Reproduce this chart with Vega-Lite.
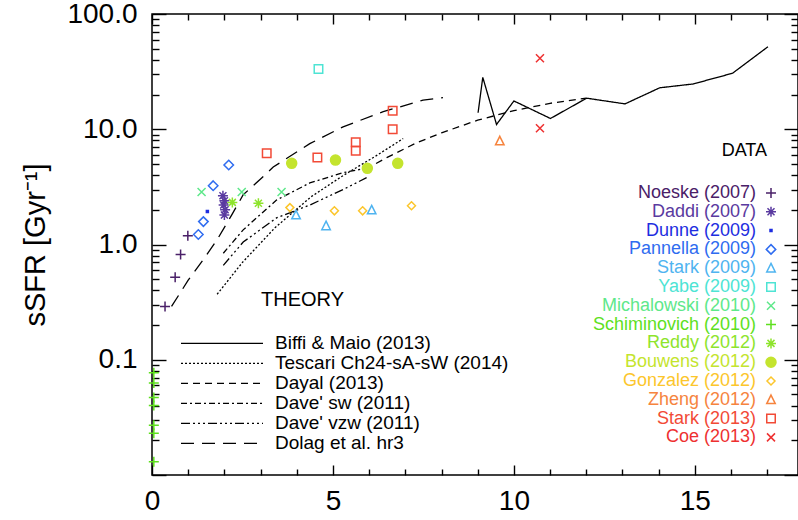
{
  "$schema": "https://vega.github.io/schema/vega-lite/v6.json",
  "width": 646,
  "height": 461,
  "autosize": {"type": "none"},
  "padding": {"left": 152, "top": 14, "right": 0, "bottom": 45},
  "config": {
    "font": "Liberation Sans",
    "view": {"stroke": "black", "strokeWidth": 1.5},
    "axis": {"grid": false, "domain": false, "tickColor": "black", "tickWidth": 1.4, "labelColor": "black", "labelFont": "Liberation Sans", "labelFontSize": 28, "titleColor": "black", "titleFont": "Liberation Sans"}
  },
  "datasets": {
    "theory": [
      {"model": "Biffi & Maio (2013)", "z": 9.01, "ssfr": 13.9},
      {"model": "Biffi & Maio (2013)", "z": 9.14, "ssfr": 28.2},
      {"model": "Biffi & Maio (2013)", "z": 9.52, "ssfr": 11.0},
      {"model": "Biffi & Maio (2013)", "z": 10.0, "ssfr": 17.6},
      {"model": "Biffi & Maio (2013)", "z": 11.01, "ssfr": 12.4},
      {"model": "Biffi & Maio (2013)", "z": 12.01, "ssfr": 18.6},
      {"model": "Biffi & Maio (2013)", "z": 13.07, "ssfr": 16.6},
      {"model": "Biffi & Maio (2013)", "z": 14.03, "ssfr": 22.9},
      {"model": "Biffi & Maio (2013)", "z": 14.95, "ssfr": 24.7},
      {"model": "Biffi & Maio (2013)", "z": 16.04, "ssfr": 30.6},
      {"model": "Biffi & Maio (2013)", "z": 17.02, "ssfr": 52.0},
      {"model": "Tescari Ch24-sA-sW (2014)", "z": 1.8, "ssfr": 0.37},
      {"model": "Tescari Ch24-sA-sW (2014)", "z": 2.5, "ssfr": 0.7},
      {"model": "Tescari Ch24-sA-sW (2014)", "z": 3.4, "ssfr": 1.4},
      {"model": "Tescari Ch24-sA-sW (2014)", "z": 4.4, "ssfr": 2.6},
      {"model": "Tescari Ch24-sA-sW (2014)", "z": 5.3, "ssfr": 4.0},
      {"model": "Tescari Ch24-sA-sW (2014)", "z": 6.2, "ssfr": 5.9},
      {"model": "Tescari Ch24-sA-sW (2014)", "z": 6.94, "ssfr": 8.3},
      {"model": "Dayal (2013)", "z": 5.9, "ssfr": 4.5},
      {"model": "Dayal (2013)", "z": 6.5, "ssfr": 5.7},
      {"model": "Dayal (2013)", "z": 7.3, "ssfr": 7.6},
      {"model": "Dayal (2013)", "z": 8.0, "ssfr": 9.3},
      {"model": "Dayal (2013)", "z": 9.0, "ssfr": 12.0},
      {"model": "Dayal (2013)", "z": 10.0, "ssfr": 14.5},
      {"model": "Dayal (2013)", "z": 11.0, "ssfr": 16.8},
      {"model": "Dayal (2013)", "z": 12.0, "ssfr": 18.6},
      {"model": "Dave' sw (2011)", "z": 1.97, "ssfr": 0.84},
      {"model": "Dave' sw (2011)", "z": 2.52, "ssfr": 1.34},
      {"model": "Dave' sw (2011)", "z": 3.44, "ssfr": 2.43},
      {"model": "Dave' sw (2011)", "z": 4.36, "ssfr": 3.42},
      {"model": "Dave' sw (2011)", "z": 5.28, "ssfr": 4.2},
      {"model": "Dave' sw (2011)", "z": 5.93, "ssfr": 4.6},
      {"model": "Dave' vzw (2011)", "z": 1.97, "ssfr": 0.66},
      {"model": "Dave' vzw (2011)", "z": 2.52, "ssfr": 1.05},
      {"model": "Dave' vzw (2011)", "z": 3.44, "ssfr": 1.7},
      {"model": "Dave' vzw (2011)", "z": 4.36, "ssfr": 2.2},
      {"model": "Dave' vzw (2011)", "z": 5.28, "ssfr": 3.0},
      {"model": "Dave' vzw (2011)", "z": 5.93, "ssfr": 3.8},
      {"model": "Dolag et al. hr3", "z": 0.54, "ssfr": 0.29},
      {"model": "Dolag et al. hr3", "z": 1.0, "ssfr": 0.49},
      {"model": "Dolag et al. hr3", "z": 1.42, "ssfr": 0.74},
      {"model": "Dolag et al. hr3", "z": 1.8, "ssfr": 1.1},
      {"model": "Dolag et al. hr3", "z": 2.2, "ssfr": 1.8},
      {"model": "Dolag et al. hr3", "z": 2.52, "ssfr": 2.7},
      {"model": "Dolag et al. hr3", "z": 3.0, "ssfr": 3.7},
      {"model": "Dolag et al. hr3", "z": 3.35, "ssfr": 4.7},
      {"model": "Dolag et al. hr3", "z": 4.36, "ssfr": 7.5},
      {"model": "Dolag et al. hr3", "z": 5.28, "ssfr": 10.5},
      {"model": "Dolag et al. hr3", "z": 6.39, "ssfr": 14.2},
      {"model": "Dolag et al. hr3", "z": 7.49, "ssfr": 17.9},
      {"model": "Dolag et al. hr3", "z": 8.04, "ssfr": 18.8}
    ],
    "obs": [
      {"src": "Noeske (2007)", "z": 0.36, "ssfr": 0.29},
      {"src": "Noeske (2007)", "z": 0.64, "ssfr": 0.52},
      {"src": "Noeske (2007)", "z": 0.79, "ssfr": 0.82},
      {"src": "Noeske (2007)", "z": 0.99, "ssfr": 1.19},
      {"src": "Daddi (2007)", "z": 1.96, "ssfr": 2.65},
      {"src": "Daddi (2007)", "z": 2.0, "ssfr": 2.4},
      {"src": "Daddi (2007)", "z": 1.98, "ssfr": 2.2},
      {"src": "Daddi (2007)", "z": 2.02, "ssfr": 2.0},
      {"src": "Daddi (2007)", "z": 2.0, "ssfr": 1.8},
      {"src": "Dunne (2009)", "z": 1.53, "ssfr": 1.93},
      {"src": "Pannella (2009)", "z": 1.28, "ssfr": 1.22},
      {"src": "Pannella (2009)", "z": 1.42, "ssfr": 1.58},
      {"src": "Pannella (2009)", "z": 1.69, "ssfr": 3.24},
      {"src": "Pannella (2009)", "z": 2.12, "ssfr": 4.9},
      {"src": "Stark (2009)", "z": 3.98, "ssfr": 1.8},
      {"src": "Stark (2009)", "z": 4.81, "ssfr": 1.45},
      {"src": "Stark (2009)", "z": 6.07, "ssfr": 1.99},
      {"src": "Yabe (2009)", "z": 4.6, "ssfr": 33.3},
      {"src": "Michalowski (2010)", "z": 1.37, "ssfr": 2.85},
      {"src": "Michalowski (2010)", "z": 2.48, "ssfr": 2.85},
      {"src": "Michalowski (2010)", "z": 3.58, "ssfr": 2.85},
      {"src": "Schiminovich (2010)", "z": 0.05, "ssfr": 0.077},
      {"src": "Schiminovich (2010)", "z": 0.05, "ssfr": 0.063},
      {"src": "Schiminovich (2010)", "z": 0.05, "ssfr": 0.047},
      {"src": "Schiminovich (2010)", "z": 0.05, "ssfr": 0.04},
      {"src": "Schiminovich (2010)", "z": 0.05, "ssfr": 0.027},
      {"src": "Schiminovich (2010)", "z": 0.05, "ssfr": 0.023},
      {"src": "Schiminovich (2010)", "z": 0.05, "ssfr": 0.013},
      {"src": "Reddy (2012)", "z": 2.22, "ssfr": 2.32},
      {"src": "Reddy (2012)", "z": 2.94, "ssfr": 2.28},
      {"src": "Bouwens (2012)", "z": 3.86, "ssfr": 5.06},
      {"src": "Bouwens (2012)", "z": 5.07, "ssfr": 5.4},
      {"src": "Bouwens (2012)", "z": 5.95, "ssfr": 4.58},
      {"src": "Bouwens (2012)", "z": 6.79, "ssfr": 5.06},
      {"src": "Gonzalez (2012)", "z": 3.81, "ssfr": 2.09},
      {"src": "Gonzalez (2012)", "z": 5.04, "ssfr": 1.96},
      {"src": "Gonzalez (2012)", "z": 5.82, "ssfr": 1.96},
      {"src": "Gonzalez (2012)", "z": 7.17, "ssfr": 2.17},
      {"src": "Zheng (2012)", "z": 9.61, "ssfr": 7.9},
      {"src": "Stark (2013)", "z": 3.17, "ssfr": 6.2},
      {"src": "Stark (2013)", "z": 4.57, "ssfr": 5.7},
      {"src": "Stark (2013)", "z": 5.63, "ssfr": 7.7},
      {"src": "Stark (2013)", "z": 5.63, "ssfr": 6.5},
      {"src": "Stark (2013)", "z": 6.65, "ssfr": 10.0},
      {"src": "Stark (2013)", "z": 6.65, "ssfr": 14.5},
      {"src": "Coe (2013)", "z": 10.72, "ssfr": 41.3},
      {"src": "Coe (2013)", "z": 10.72, "ssfr": 10.2}
    ]
  },
  "layer": [
    {
      "data": {"name": "theory"},
      "mark": {"type": "line", "color": "black", "strokeWidth": 1.3},
      "encoding": {
        "x": {"field": "z", "type": "quantitative", "scale": {"domain": [0, 17.85], "nice": false, "zero": false},
          "axis": {"orient": "bottom", "values": [0, 5, 10, 15], "tickSize": -10, "labelPadding": 22, "title": null, "format": "d", "labelFlush": false}},
        "y": {"field": "ssfr", "type": "quantitative", "scale": {"type": "log", "domain": [0.01, 100], "nice": false},
          "axis": {"orient": "left", "values": [0.01, 0.1, 1, 10, 100], "tickSize": -14, "labelPadding": 29,
            "labelExpr": "datum.value >= 0.1 ? format(datum.value, '.1f') : ''",
            "title": "sSFR [Gyr⁻¹]", "titleFontSize": 29, "titleFontWeight": "normal", "titlePadding": 16}},
        "strokeDash": {"field": "model", "type": "nominal",
          "scale": {"domain": ["Biffi & Maio (2013)", "Tescari Ch24-sA-sW (2014)", "Dayal (2013)", "Dave' sw (2011)", "Dave' vzw (2011)", "Dolag et al. hr3"],
            "range": [[1, 0], [2, 2], [7, 5], [6, 3, 2, 3], [9, 3, 2, 3, 2, 3, 2, 3], [13, 8]]},
          "legend": {"title": "THEORY", "orient": "none", "legendX": 28, "legendY": 276, "symbolType": "stroke", "symbolSize": 6724,
            "symbolStrokeWidth": 1.4, "symbolStrokeColor": "black", "clipHeight": 18.7, "rowPadding": -1.6, "padding": 0,
            "labelFont": "Liberation Sans", "labelFontSize": 19, "labelColor": "black", "labelOffset": 11, "labelLimit": 400,
            "titleFont": "Liberation Sans", "titleFontSize": 20, "titleFontWeight": "normal", "titleColor": "black", "titleAnchor": "middle", "titleAlign": "right", "titlePadding": 24}}
      }
    },
    {
      "data": {"name": "obs"},
      "mark": {"type": "point", "size": 100, "strokeWidth": 1.5, "opacity": 1},
      "encoding": {
        "x": {"field": "z", "type": "quantitative", "scale": {"domain": [0, 17.85], "nice": false, "zero": false},
          "axis": {"orient": "bottom", "values": [1, 2, 3, 4, 6, 7, 8, 9, 11, 12, 13, 14, 16, 17], "tickSize": -6, "labels": false, "title": null}},
        "y": {"field": "ssfr", "type": "quantitative", "scale": {"type": "log", "domain": [0.01, 100], "nice": false},
          "axis": {"orient": "left", "values": [0.02, 0.03, 0.04, 0.05, 0.06, 0.07, 0.08, 0.09, 0.2, 0.3, 0.4, 0.5, 0.6, 0.7, 0.8, 0.9, 2, 3, 4, 5, 6, 7, 8, 9, 20, 30, 40, 50, 60, 70, 80, 90], "tickSize": -7, "labels": false, "title": null}},
        "stroke": {"field": "src", "type": "nominal",
          "scale": {"domain": ["Noeske (2007)", "Daddi (2007)", "Dunne (2009)", "Pannella (2009)", "Stark (2009)", "Yabe (2009)", "Michalowski (2010)", "Schiminovich (2010)", "Reddy (2012)", "Bouwens (2012)", "Gonzalez (2012)", "Zheng (2012)", "Stark (2013)", "Coe (2013)"],
            "range": ["#4a2068", "#5a3aa0", "#1e2ee0", "#2f6cf0", "#4fb4f0", "#4ee4d4", "#5ee88a", "#5ee01e", "#8ee42c", "#c4e42e", "#fcc62c", "#f6843e", "#f24a36", "#ee3030"]},
          "legend": {"title": "DATA", "orient": "none", "legendX": 570, "legendY": 128, "rowPadding": 0.8, "padding": 0,
            "symbolSize": 100, "symbolStrokeWidth": 1.5, "symbolOffset": 8, "labelFont": "Liberation Sans", "labelFontSize": 18, "labelLimit": 400,
            "labelAlign": "right", "labelOffset": -24,
            "labelColor": {"expr": "scale('stroke', datum.value)"},
            "titleFont": "Liberation Sans", "titleFontSize": 18, "titleFontWeight": "normal", "titleColor": "black", "titleAnchor": "middle", "titleAlign": "right", "titlePadding": 24}},
        "fill": {"field": "src", "type": "nominal",
          "scale": {"domain": ["Noeske (2007)", "Daddi (2007)", "Dunne (2009)", "Pannella (2009)", "Stark (2009)", "Yabe (2009)", "Michalowski (2010)", "Schiminovich (2010)", "Reddy (2012)", "Bouwens (2012)", "Gonzalez (2012)", "Zheng (2012)", "Stark (2013)", "Coe (2013)"],
            "range": ["transparent", "transparent", "#1e2ee0", "transparent", "transparent", "transparent", "transparent", "transparent", "transparent", "#c4e42e", "transparent", "transparent", "transparent", "transparent"]},
          "legend": {"title": "DATA", "orient": "none", "legendX": 570, "legendY": 128, "rowPadding": 0.8, "padding": 0,
            "symbolSize": 100, "symbolStrokeWidth": 1.5, "symbolOffset": 8, "labelFont": "Liberation Sans", "labelFontSize": 18, "labelLimit": 400,
            "labelAlign": "right", "labelOffset": -24,
            "labelColor": {"expr": "scale('stroke', datum.value)"},
            "titleFont": "Liberation Sans", "titleFontSize": 18, "titleFontWeight": "normal", "titleColor": "black", "titleAnchor": "middle", "titleAlign": "right", "titlePadding": 24}},
        "shape": {"field": "src", "type": "nominal",
          "scale": {"domain": ["Noeske (2007)", "Daddi (2007)", "Dunne (2009)", "Pannella (2009)", "Stark (2009)", "Yabe (2009)", "Michalowski (2010)", "Schiminovich (2010)", "Reddy (2012)", "Bouwens (2012)", "Gonzalez (2012)", "Zheng (2012)", "Stark (2013)", "Coe (2013)"],
            "range": [
              "M-1,0L1,0M0,-1L0,1",
              "M-1,0L1,0M0,-1L0,1M-0.7,-0.7L0.7,0.7M-0.7,0.7L0.7,-0.7",
              "M-0.2,-0.2L0.2,-0.2L0.2,0.2L-0.2,0.2Z",
              "M0,-0.95L0.95,0L0,0.95L-0.95,0Z",
              "M0,-0.95L0.85,0.75L-0.85,0.75Z",
              "M-0.85,-0.85L0.85,-0.85L0.85,0.85L-0.85,0.85Z",
              "M-0.8,-0.8L0.8,0.8M-0.8,0.8L0.8,-0.8",
              "M-1,0L1,0M0,-1L0,1",
              "M-1,0L1,0M0,-1L0,1M-0.7,-0.7L0.7,0.7M-0.7,0.7L0.7,-0.7",
              "circle",
              "M0,-0.8L0.8,0L0,0.8L-0.8,0Z",
              "M0,-0.95L0.85,0.75L-0.85,0.75Z",
              "M-0.85,-0.85L0.85,-0.85L0.85,0.85L-0.85,0.85Z",
              "M-0.8,-0.8L0.8,0.8M-0.8,0.8L0.8,-0.8"
            ]},
          "legend": {"title": "DATA", "orient": "none", "legendX": 570, "legendY": 128, "rowPadding": 0.8, "padding": 0,
            "symbolSize": 100, "symbolStrokeWidth": 1.5, "symbolOffset": 8, "labelFont": "Liberation Sans", "labelFontSize": 18, "labelLimit": 400,
            "labelAlign": "right", "labelOffset": -24,
            "labelColor": {"expr": "scale('stroke', datum.value)"},
            "titleFont": "Liberation Sans", "titleFontSize": 18, "titleFontWeight": "normal", "titleColor": "black", "titleAnchor": "middle", "titleAlign": "right", "titlePadding": 24}}
      }
    },
    {
      "data": {"name": "obs"},
      "mark": {"type": "point", "opacity": 0},
      "encoding": {
        "x": {"field": "z", "type": "quantitative", "scale": {"domain": [0, 17.85], "nice": false, "zero": false},
          "axis": {"orient": "top", "values": [0, 5, 10, 15], "tickSize": -10, "labels": false, "title": null}},
        "y": {"field": "ssfr", "type": "quantitative", "scale": {"type": "log", "domain": [0.01, 100], "nice": false},
          "axis": {"orient": "right", "values": [0.01, 0.1, 1, 10, 100], "tickSize": -14, "labels": false, "title": null}}
      }
    },
    {
      "data": {"name": "obs"},
      "mark": {"type": "point", "opacity": 0},
      "encoding": {
        "x": {"field": "z", "type": "quantitative", "scale": {"domain": [0, 17.85], "nice": false, "zero": false},
          "axis": {"orient": "top", "values": [1, 2, 3, 4, 6, 7, 8, 9, 11, 12, 13, 14, 16, 17], "tickSize": -6, "labels": false, "title": null}},
        "y": {"field": "ssfr", "type": "quantitative", "scale": {"type": "log", "domain": [0.01, 100], "nice": false},
          "axis": {"orient": "right", "values": [0.02, 0.03, 0.04, 0.05, 0.06, 0.07, 0.08, 0.09, 0.2, 0.3, 0.4, 0.5, 0.6, 0.7, 0.8, 0.9, 2, 3, 4, 5, 6, 7, 8, 9, 20, 30, 40, 50, 60, 70, 80, 90], "tickSize": -7, "labels": false, "title": null}}
      }
    }
  ],
  "resolve": {"axis": {"x": "independent", "y": "independent"}}
}
